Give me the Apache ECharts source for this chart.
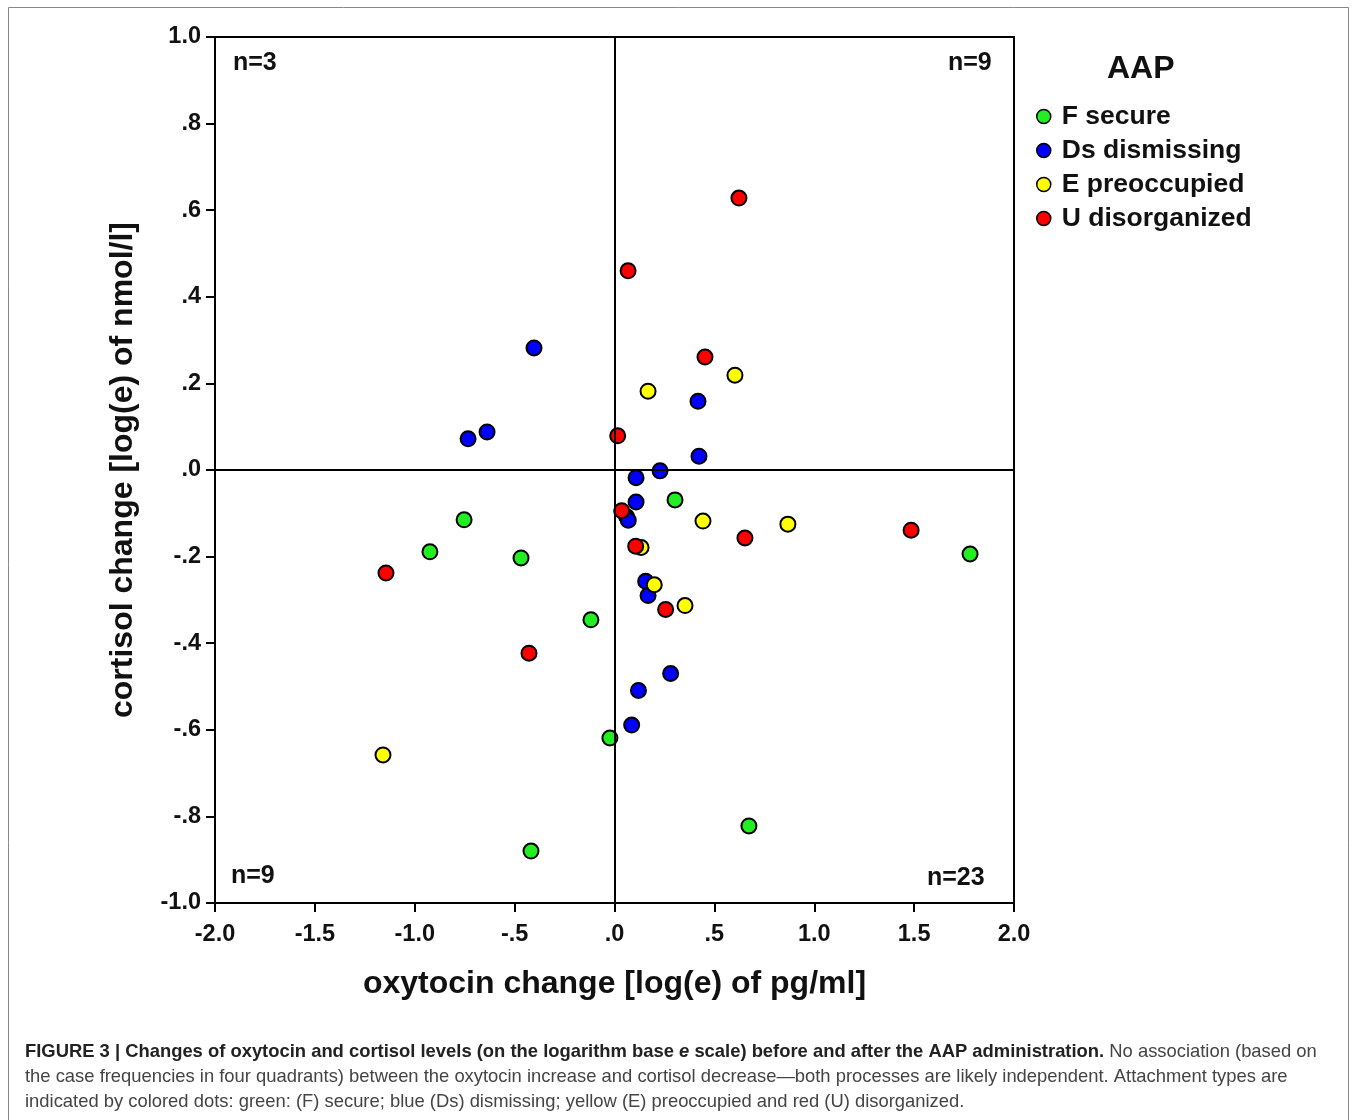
<!DOCTYPE html>
<html>
<head>
<meta charset="utf-8">
<script src="https://cdn.jsdelivr.net/npm/echarts@6/dist/echarts.min.js"></script>
<style>
  html, body { margin: 0; padding: 0; background: #fff; }
  #chart { width: 1354px; height: 1120px; }
</style>
</head>
<body>
<div id="chart"></div>
<script>
// values: [oxytocin change, cortisol change]
const secure = [
  [0.303, -0.069], [-0.753, -0.115], [-0.924, -0.189], [-0.468, -0.203],
  [-0.118, -0.346], [-0.023, -0.619], [-0.418, -0.880], [0.673, -0.822],
  [1.780, -0.194]
];
const dismissing = [
  [-0.403, 0.282], [-0.733, 0.072], [-0.638, 0.088], [0.418, 0.159],
  [0.423, 0.032], [0.228, -0.002], [0.108, -0.018], [0.108, -0.074],
  [0.061, -0.108], [0.069, -0.116], [0.156, -0.257], [0.168, -0.290],
  [0.281, -0.470], [0.120, -0.509], [0.086, -0.589]
];
const preoccupied = [
  [0.168, 0.182], [0.603, 0.219], [0.443, -0.118], [0.868, -0.125],
  [0.133, -0.179], [0.199, -0.265], [0.353, -0.313], [-1.159, -0.658]
];
const disorganized = [
  [0.623, 0.628], [0.068, 0.460], [0.453, 0.261], [0.016, 0.079],
  [0.036, -0.094], [0.106, -0.176], [0.256, -0.322], [0.653, -0.157],
  [1.485, -0.139], [-1.144, -0.238], [-0.428, -0.423]
];
const groupNames = ["F secure", "Ds dismissing", "E preoccupied", "U disorganized"];
const groupColors = ["#22ee22", "#0000ff", "#ffff00", "#ff0000"];
const quadrantLabels = ["n=3", "n=9", "n=9", "n=23"];

const FONT = "Liberation Sans, Arial, Helvetica, sans-serif";

// 1.0 -> "1.0", 0.8 -> ".8", -0.2 -> "-.2"
function tickFmt(v) {
  if (Math.abs(v) < 1e-9) return ".0";
  let s = v.toFixed(1);
  return s.replace(/^(-?)0\./, "$1.");
}

const chart = echarts.init(document.getElementById("chart"));

const axisCommon = {
  axisLine: { show: true, onZero: false, lineStyle: { color: "#000", width: 2 } },
  axisTick: { show: true, inside: false, length: 9, lineStyle: { color: "#000", width: 2 } },
  splitLine: { show: false },
  axisLabel: {
    color: "#111",
    fontFamily: FONT,
    fontWeight: "bold",
    fontSize: 23.5,
    formatter: tickFmt,
  },
  nameTextStyle: { color: "#111", fontFamily: FONT, fontWeight: "bold", fontSize: 32 },
  nameLocation: "middle",
};

const data = [secure, dismissing, preoccupied, disorganized];
const series = data.map((d, i) => ({
  name: groupNames[i],
  type: "scatter",
  z: 3,
  data: d,
  symbolSize: 15,
  itemStyle: { color: groupColors[i], borderColor: "#000", borderWidth: 2, opacity: 1 },
  emphasis: { disabled: true },
}));
// zero lines
series.unshift({
  type: "scatter",
  name: "zero",
  z: 1,
  data: [],
  markLine: {
    silent: true,
    symbol: "none",
    label: { show: false },
    lineStyle: { color: "#000", width: 2, type: "solid" },
    data: [{ xAxis: 0 }, { yAxis: 0 }],
  },
});

const caption = [
  "{b|FIGURE 3 | Changes of oxytocin and cortisol levels (on the logarithm base }{bi|e}{b| scale) before and after the AAP administration.}{r| No association (based on}",
  "{r|the case frequencies in four quadrants) between the oxytocin increase and cortisol decrease\u2014both processes are likely independent. Attachment types are}",
  "{r|indicated by colored dots: green: (F) secure; blue (Ds) dismissing; yellow (E) preoccupied and red (U) disorganized.}",
];
const capRich = {
  b: { fontFamily: FONT, fontWeight: "bold", fontSize: 18.4, fill: "#222", lineHeight: 25 },
  bi: { fontFamily: FONT, fontWeight: "bold", fontStyle: "italic", fontSize: 18.4, fill: "#222", lineHeight: 25 },
  r: { fontFamily: FONT, fontSize: 18.4, fill: "#444", lineHeight: 25 },
};

const nStyle = { fontFamily: FONT, fontWeight: "bold", fontSize: 25, fill: "#111" };

chart.setOption({
  backgroundColor: "#fff",
  animation: false,
  grid: {
    left: 215, right: 340, top: 37, bottom: 217,
    show: true, borderColor: "#000", borderWidth: 2, backgroundColor: "transparent",
  },
  xAxis: Object.assign({}, axisCommon, {
    type: "value", min: -2, max: 2, interval: 0.5,
    name: "oxytocin change [log(e) of pg/ml]", nameGap: 65,
    axisLabel: Object.assign({}, axisCommon.axisLabel, { margin: 20 }),
  }),
  yAxis: Object.assign({}, axisCommon, {
    type: "value", min: -1, max: 1, interval: 0.2,
    name: "cortisol change [log(e) of nmol/l]", nameGap: 76, nameRotate: 90,
    axisLabel: Object.assign({}, axisCommon.axisLabel, { margin: 14 }),
  }),
  legend: {
    data: groupNames,
    orient: "vertical",
    left: 1031,
    top: 98,
    itemWidth: 14,
    itemHeight: 14,
    itemGap: 7,
    icon: "circle",
    itemStyle: { borderColor: "#000", borderWidth: 1.5 },
    textStyle: { fontFamily: FONT, fontWeight: "bold", fontSize: 26.5, color: "#111", padding: [0, 0, 0, 6] },
    selectedMode: false,
  },
  graphic: [
    { type: "rect", silent: true, shape: { x: 8.5, y: 7.5, width: 1340, height: 1140 },
      style: { fill: "none", stroke: "#888", lineWidth: 1 } },
    { type: "text", left: 1107, top: 53, style: { text: "AAP", fontFamily: FONT, fontWeight: "bold", fontSize: 32, fill: "#111" } },
    { type: "text", left: 233, top: 51, style: Object.assign({ text: quadrantLabels[0] }, nStyle) },
    { type: "text", left: 948, top: 51, style: Object.assign({ text: quadrantLabels[1] }, nStyle) },
    { type: "text", left: 231, top: 864, style: Object.assign({ text: quadrantLabels[2] }, nStyle) },
    { type: "text", left: 927, top: 866, style: Object.assign({ text: quadrantLabels[3] }, nStyle) },
    { type: "text", left: 25, top: 1043, style: { text: caption.join("\n"), rich: capRich } },
  ],
  series: series,
});
</script>
</body>
</html>
